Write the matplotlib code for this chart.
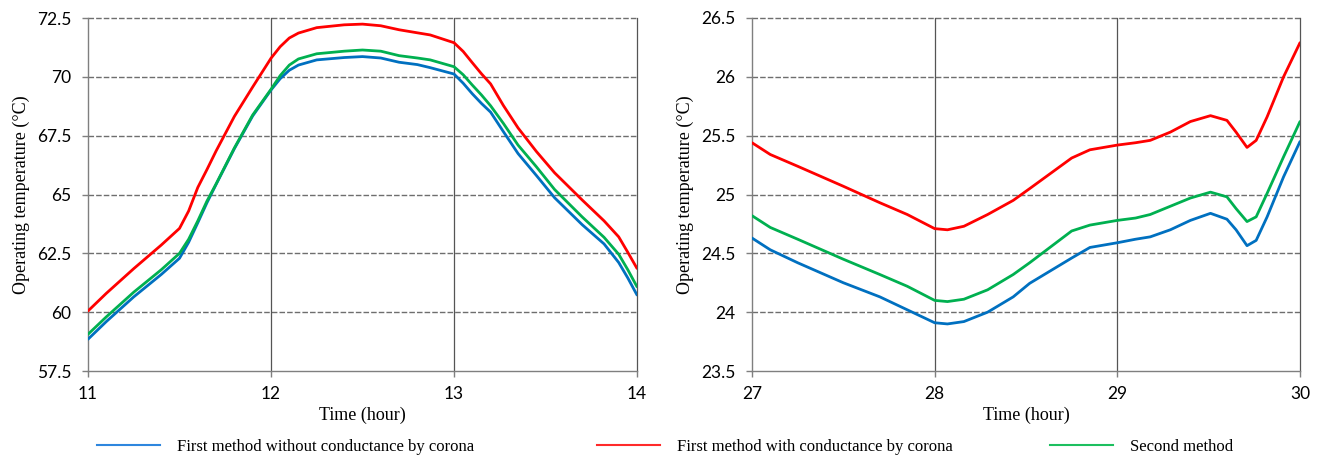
import matplotlib
matplotlib.use("Agg")
import matplotlib.pyplot as plt
from matplotlib.lines import Line2D

# ---- data: left panel (hours 11-14) ----
t_left = [11.0, 11.1, 11.25, 11.4, 11.5, 11.55, 11.6, 11.65, 11.7, 11.8, 11.9, 12.0, 12.05, 12.1, 12.15,
          12.25, 12.4, 12.5, 12.6, 12.7, 12.8, 12.87, 13.0, 13.05, 13.1, 13.15, 13.2, 13.27, 13.35, 13.45,
          13.55, 13.7, 13.82, 13.9, 13.95, 14.0]
red_left = [60.05, 60.8, 61.85, 62.85, 63.56, 64.3, 65.3, 66.06, 66.85, 68.32, 69.57, 70.79, 71.28, 71.65, 71.86,
            72.09, 72.21, 72.24, 72.17, 72.0, 71.87, 71.78, 71.45, 71.08, 70.6, 70.13, 69.7, 68.78, 67.83, 66.83,
            65.92, 64.77, 63.88, 63.2, 62.54, 61.86]
blue_left = [58.85, 59.6, 60.65, 61.6, 62.29, 62.97, 63.8, 64.65, 65.43, 66.95, 68.34, 69.44, 69.92, 70.28, 70.5,
             70.72, 70.82, 70.86, 70.8, 70.62, 70.52, 70.39, 70.12, 69.73, 69.28, 68.87, 68.5, 67.67, 66.74, 65.81,
             64.86, 63.72, 62.9, 62.11, 61.45, 60.73]
green_left = [59.06, 59.8, 60.85, 61.8, 62.5, 63.1, 63.88, 64.72, 65.45, 66.98, 68.38, 69.47, 70.05, 70.5, 70.76,
              70.98, 71.09, 71.14, 71.09, 70.9, 70.8, 70.72, 70.43, 70.09, 69.65, 69.23, 68.77, 68.02, 67.1, 66.18,
              65.21, 64.05, 63.18, 62.46, 61.8, 61.08]

# ---- data: right panel (hours 27-30) ----
t_right = [27.0, 27.1, 27.25, 27.5, 27.7, 27.85, 28.0, 28.07, 28.16, 28.29, 28.43, 28.52, 28.75, 28.85, 29.0,
           29.1, 29.18, 29.29, 29.4, 29.51, 29.6, 29.65, 29.71, 29.76, 29.82, 29.91, 30.0]
red_right = [25.44, 25.34, 25.24, 25.07, 24.93, 24.83, 24.71, 24.70, 24.73, 24.83, 24.95, 25.05, 25.31, 25.38, 25.42,
             25.44, 25.46, 25.53, 25.62, 25.67, 25.63, 25.53, 25.40, 25.46, 25.66, 26.00, 26.29]
blue_right = [24.63, 24.53, 24.42, 24.25, 24.13, 24.02, 23.91, 23.90, 23.92, 24.00, 24.13, 24.245, 24.46, 24.55, 24.59,
              24.62, 24.64, 24.70, 24.78, 24.84, 24.79, 24.70, 24.565, 24.61, 24.81, 25.15, 25.45]
green_right = [24.82, 24.72, 24.62, 24.45, 24.32, 24.22, 24.10, 24.09, 24.11, 24.19, 24.32, 24.42, 24.69, 24.74, 24.78,
               24.80, 24.83, 24.90, 24.97, 25.02, 24.98, 24.88, 24.77, 24.81, 25.01, 25.32, 25.62]

series_names = ["First method without conductance by corona",
                "First method with conductance by corona",
                "Second method"]
colors = ["#0070C0", "#FF0000", "#00B050"]
legend_colors = ["#2E86DE", "#FF2A2A", "#1DBF5F"]

xticks_left = [11, 12, 13, 14]
yticks_left = [57.5, 60, 62.5, 65, 67.5, 70, 72.5]
ytick_labels_left = ["57.5", "60", "62.5", "65", "67.5", "70", "72.5"]
xticks_right = [27, 28, 29, 30]
yticks_right = [23.5, 24, 24.5, 25, 25.5, 26, 26.5]
ytick_labels_right = ["23.5", "24", "24.5", "25", "25.5", "26", "26.5"]

W, H = 1320, 459
fig = plt.figure(figsize=(W / 100, H / 100), dpi=100)
fig.patch.set_facecolor("white")

serif = "Liberation Serif"
tickfont = "Lato"

def setup(ax, xt, yt, ytl):
    ax.set_xlim(xt[0], xt[-1])
    ax.set_ylim(yt[0], yt[-1])
    ax.set_xticks(xt)
    ax.set_xticklabels([str(v) for v in xt], fontfamily=tickfont, fontsize=12.5)
    ax.set_yticks(yt)
    ax.set_yticklabels(ytl, fontfamily=tickfont, fontsize=12.5)
    for s in ["top", "right"]:
        ax.spines[s].set_visible(False)
    for s in ["left", "bottom"]:
        ax.spines[s].set_color("#7f7f7f")
        ax.spines[s].set_linewidth(1.0)
    ax.tick_params(axis="both", direction="out", length=4, color="#7f7f7f", width=1.0)
    ax.tick_params(axis="x", pad=7)
    ax.tick_params(axis="y", pad=8)
    for y in yt[1:]:
        ax.axhline(y, color="#6e6e6e", lw=1.0, ls=(0, (4, 1.5)), zorder=1, clip_on=False)
    for x in xt[1:]:
        ax.axvline(x, color="#555555", lw=0.9, zorder=1, clip_on=False)
    ax.set_xlabel("Time (hour)", fontfamily=serif, fontsize=13, labelpad=3)
    ax.set_ylabel("Operating temperature (°C)", fontfamily=serif, fontsize=13, labelpad=5)

ax1 = fig.add_axes([88 / W, 1 - 371 / H, (637 - 88) / W, (371 - 18) / H])
ax2 = fig.add_axes([752 / W, 1 - 371 / H, (1300 - 752) / W, (371 - 18) / H])

setup(ax1, xticks_left, yticks_left, ytick_labels_left)
setup(ax2, xticks_right, yticks_right, ytick_labels_right)

for ys, c, n in zip([blue_left, red_left, green_left], colors, series_names):
    ax1.plot(t_left, ys, color=c, lw=2.0, zorder=3, label=n,
             solid_joinstyle="round", solid_capstyle="round")
for ys, c in zip([blue_right, red_right, green_right], colors):
    ax2.plot(t_right, ys, color=c, lw=2.0, zorder=3, solid_joinstyle="round", solid_capstyle="round")

# legend entries placed along the bottom
leg_x = [97, 597, 1050]
for n, c, x in zip(series_names, legend_colors, leg_x):
    h = Line2D([], [], color=c, lw=1.5)
    fig.legend([h], [n], loc="center left",
               bbox_to_anchor=(x / W, 1 - 447 / H), frameon=False,
               borderpad=0, borderaxespad=0, handlelength=3.8, handletextpad=1.0,
               prop={"family": serif, "size": 12})

fig.savefig("out.png", dpi=100, facecolor="white")
